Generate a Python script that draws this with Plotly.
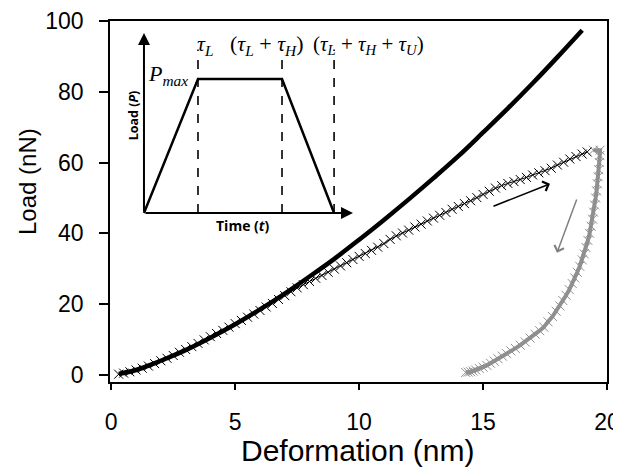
import plotly.graph_objects as go

# ---------------- data ----------------
model_x = [0.3, 1, 2, 3, 4, 5, 6, 7, 8, 9, 10, 11, 12, 13, 14, 15, 16, 17, 18, 19]
model_y = [0.3, 1.4, 4.0, 7.0, 10.5, 14.3, 18.5, 23.0, 27.8, 32.8, 38.2, 43.8, 49.6, 55.6,
           61.8, 68.5, 75.3, 82.4, 89.8, 97.4]

load_x = [0.3, 0.5, 0.75, 1.0, 1.25, 1.5, 1.75, 2.0, 2.25, 2.5,
          2.75, 3.0, 3.25, 3.5, 3.75, 4.0, 4.25, 4.5, 4.75, 5.0,
          5.25, 5.5, 5.75, 6.0, 6.25, 6.5, 6.75, 7.0, 7.25, 7.5,
          7.75, 8.0, 8.25, 8.5, 8.75, 9.0, 9.25, 9.5, 9.75, 10.0,
          10.25, 10.5, 10.75, 11.0, 11.25, 11.5, 11.75, 12.0, 12.25, 12.5,
          12.75, 13.0, 13.25, 13.5, 13.75, 14.0, 14.25, 14.5, 14.75, 15.0,
          15.25, 15.5, 15.75, 16.0, 16.25, 16.5, 16.75, 17.0, 17.25, 17.5,
          17.75, 18.0, 18.25, 18.5, 18.75, 19.0, 19.2]
load_y = [0.2, 0.5, 0.9, 1.4, 1.9, 2.5, 3.2, 4.0, 4.7, 5.5,
          6.4, 7.2, 8.0, 8.9, 9.9, 10.8, 11.7, 12.6, 13.5, 14.5,
          15.4, 16.3, 17.2, 18.2, 19.2, 20.2, 21.3, 22.4, 23.5, 24.6,
          25.5, 26.4, 27.3, 28.1, 29.0, 29.9, 30.8, 31.7, 32.6, 33.5,
          34.3, 35.2, 36.1, 37.1, 38.3, 39.3, 40.1, 40.9, 41.8, 42.6,
          43.5, 44.3, 45.1, 45.9, 46.8, 47.6, 48.4, 49.2, 50.1, 51.0,
          51.9, 52.8, 53.5, 54.1, 54.6, 55.2, 55.8, 56.5, 57.1, 57.7,
          58.4, 59.3, 60.1, 61.0, 61.7, 62.4, 63.0]

unload_x = [19.45, 19.72, 19.71, 19.69, 19.67, 19.64, 19.61, 19.58, 19.54, 19.5,
            19.46, 19.42, 19.36, 19.3, 19.23, 19.15, 19.08, 19.0, 18.9, 18.8,
            18.7, 18.6, 18.48, 18.35, 18.22, 18.1, 17.95, 17.8, 17.62, 17.45,
            17.28, 17.1, 16.9, 16.7, 16.5, 16.3, 16.12, 15.95, 15.78, 15.6,
            15.45, 15.3, 15.15, 15.0, 14.85, 14.7, 14.6, 14.5, 14.4, 14.3]
unload_y = [63.5, 63.5, 62.0, 60.0, 58.0, 56.0, 54.0, 52.0, 50.0, 48.0,
            46.0, 44.0, 42.0, 40.0, 38.0, 36.0, 34.2, 32.5, 30.7, 29.0,
            27.4, 25.8, 24.1, 22.5, 21.0, 19.5, 18.0, 16.5, 15.0, 13.5,
            12.5, 11.5, 10.4, 9.3, 8.4, 7.5, 6.8, 6.0, 5.3, 4.6,
            3.9, 3.3, 2.7, 2.2, 1.8, 1.4, 1.1, 0.9, 0.8, 0.7]

# inset schematic (time in units of tau_L, load in units of P_max)
inset_t = [0, 1.0, 2.556, 3.52]
inset_p = [0, 1.0, 1.0, 0]
inset_marks = [1.0, 2.556, 3.52]
inset_mark_labels = ["<i>τ<sub>L</sub></i>",
                     "(<i>τ<sub>L</sub></i> + <i>τ<sub>H</sub></i>)",
                     "(<i>τ<sub>L</sub></i> + <i>τ<sub>H</sub></i> + <i>τ<sub>U</sub></i>)"]
inset_label_pos = [1.13, 2.28, 4.15]
inset_label_size = [22, 22, 21]

x_ticks = [0, 5, 10, 15, 20]
y_ticks = [0, 20, 40, 60, 80, 100]

# ---------------- figure ----------------
fig = go.Figure()

fig.add_trace(go.Scatter(
    x=unload_x, y=unload_y, mode="lines+markers",
    line=dict(color="#8f8f8f", width=4),
    marker=dict(symbol="x-thin-open", size=9, line=dict(color="#c4c4c4", width=1)),
    showlegend=False))

fig.add_trace(go.Scatter(
    x=load_x, y=load_y, mode="lines+markers",
    line=dict(color="black", width=1),
    marker=dict(symbol="x-thin-open", size=9, line=dict(color="#808080", width=1)),
    showlegend=False))

fig.add_trace(go.Scatter(
    x=model_x, y=model_y, mode="lines", line=dict(color="black", width=4.5, shape="spline"),
    showlegend=False))

# inset traces
fig.add_trace(go.Scatter(x=inset_t, y=inset_p, mode="lines", xaxis="x2", yaxis="y2",
                         line=dict(color="black", width=2.5), showlegend=False))
dash_x, dash_y = [], []
for m in inset_marks:
    dash_x += [m, m, None]
    dash_y += [0, 1.22, None]
fig.add_trace(go.Scatter(x=dash_x, y=dash_y, mode="lines", xaxis="x2", yaxis="y2",
                         line=dict(color="black", width=1.6, dash="dash"), showlegend=False))

ann = []
# inset axis arrows
ann.append(dict(x=3.87, y=0, ax=0, ay=0, xref="x2", yref="y2", axref="x2", ayref="y2",
                showarrow=True, arrowhead=2, arrowsize=1.2, arrowwidth=2, arrowcolor="black", text=""))
ann.append(dict(x=0, y=1.343, ax=0, ay=0, xref="x2", yref="y2", axref="x2", ayref="y2",
                showarrow=True, arrowhead=2, arrowsize=1.2, arrowwidth=2, arrowcolor="black", text=""))
for lbl, pos, sz in zip(inset_mark_labels, inset_label_pos, inset_label_size):
    ann.append(dict(x=pos, y=1.255, xref="x2", yref="y2", text=lbl, showarrow=False,
                    xanchor="center", yanchor="middle",
                    font=dict(family="Liberation Serif", size=sz, color="black")))
ann.append(dict(x=0.86, y=1.03, xref="x2", yref="y2", text="<i>P<sub>max</sub></i>",
                showarrow=False, xanchor="right", yanchor="middle",
                font=dict(family="Liberation Serif", size=22, color="black")))
ann.append(dict(x=-0.2, y=0.73, xref="x2", yref="y2", text="<b>Load (<i>P</i>)</b>",
                showarrow=False, textangle=-90, xanchor="center", yanchor="middle",
                font=dict(family="Open Sans", size=12.5, color="black")))
ann.append(dict(x=1.83, y=-0.09, xref="x2", yref="y2", text="<b>Time (<i>t</i>)</b>",
                showarrow=False, xanchor="center", yanchor="middle",
                font=dict(family="Open Sans", size=14, color="black")))

# direction arrows in main plot
ann.append(dict(x=17.7, y=54, ax=15.36, ay=47.5, xref="x", yref="y", axref="x", ayref="y",
                showarrow=True, arrowhead=4, arrowsize=1.3, arrowwidth=1.5, arrowcolor="black", text=""))
ann.append(dict(x=17.98, y=34.5, ax=18.8, ay=50, xref="x", yref="y", axref="x", ayref="y",
                showarrow=True, arrowhead=4, arrowsize=1.3, arrowwidth=1.5, arrowcolor="#808080", text=""))

# axis titles
ann.append(dict(x=0.497, y=-0.191, xref="paper", yref="paper", text="Deformation (nm)",
                xanchor="center", yanchor="middle",
                showarrow=False, font=dict(family="Liberation Sans", size=30, color="black")))
ann.append(dict(x=-0.167, y=0.554, xref="paper", yref="paper", text="Load (nN)", textangle=-90,
                xanchor="center", yanchor="middle",
                showarrow=False, font=dict(family="Liberation Sans", size=24, color="black")))

# the page adds an 8 px body margin, so the figure is sized to fit the 621x470 window
fig.update_layout(
    width=613, height=462,
    margin=dict(l=102, r=14, t=13, b=88, autoexpand=False),
    paper_bgcolor="white", plot_bgcolor="rgba(0,0,0,0)",
    font=dict(family="Liberation Sans", color="black"),
    annotations=ann,
    xaxis=dict(range=[-0.05, 20], tickvals=x_ticks, ticks="outside", ticklen=6, tickwidth=1.5,
               tickcolor="black", showline=True, linecolor="black", linewidth=1.5, mirror=True,
               showgrid=False, zeroline=False, tickfont=dict(size=23), ticklabelstandoff=13,
               automargin=False),
    yaxis=dict(range=[-2, 100], tickvals=y_ticks, ticks="outside", ticklen=9, tickwidth=1.5,
               tickcolor="black", showline=True, linecolor="black", linewidth=1.5, mirror=True,
               showgrid=False, zeroline=False, tickfont=dict(size=23), ticklabelstandoff=11,
               automargin=False),
    xaxis2=dict(domain=[0.0249, 0.5682], range=[-0.4, 4.6], visible=False, anchor="y2"),
    yaxis2=dict(domain=[0.394, 0.988], range=[-0.2, 1.4], visible=False, anchor="x2"),
)

fig.write_html("out.html")
